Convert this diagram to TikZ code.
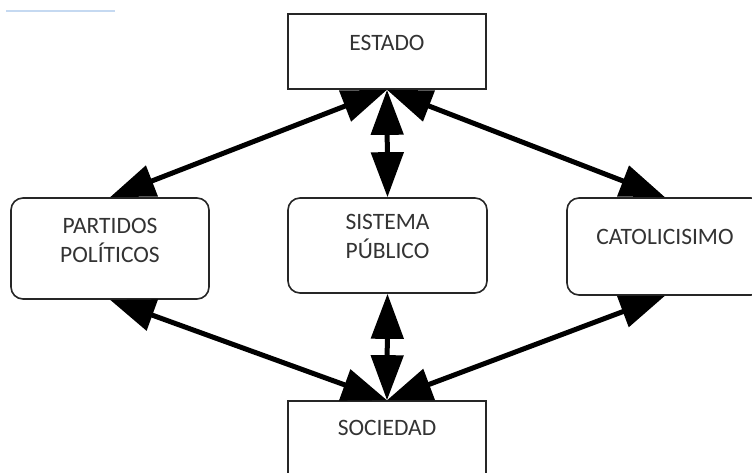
\documentclass[tikz,border=0pt]{standalone}
\usepackage{fontspec}
\setmainfont{Carlito}
\usetikzlibrary{arrows.meta}
\tikzset{
  sqbox/.style={draw=black!85, line width=1.6pt, fill=white, inner sep=0pt},
  rbox/.style={sqbox, rounded corners=12pt},
  lbl/.style={font=\fontsize{23.5}{29}\selectfont, text=black!80, align=center, inner sep=0pt},
  link/.style={line width=5pt, black, {Triangle[length=45pt,width=32pt]}-{Triangle[length=45pt,width=32pt]}}
}
\begin{document}
\begin{tikzpicture}[x=1pt,y=-1pt]
\useasboundingbox (0,0) rectangle (752,472);
\clip (0,0) rectangle (752,472);
\fill[white] (0,0) rectangle (752,472);
\coordinate (bl1) at (6,11);
\coordinate (bl2) at (115,11);
\draw[line width=1.2pt, color={rgb,255:red,197;green,217;blue,241}] (bl1) -- (bl2);

\node[sqbox, minimum width=198pt, minimum height=75pt] (estado) at (387,51.5) {};
\node[rbox, minimum width=198pt, minimum height=101pt] (partidos) at (110,248.5) {};
\node[rbox, minimum width=199pt, minimum height=95pt] (sistema) at (387.5,245.5) {};
\node[rbox, minimum width=196pt, minimum height=97pt] (catol) at (665,246.5) {};
\node[sqbox, minimum width=198pt, minimum height=90pt] (sociedad) at (387,446) {};

\node[lbl] (testado) at (387,43) {ESTADO};
\node[lbl] (tpartidos) at (110,240) {PARTIDOS\\POLÍTICOS};
\node[lbl] (tsistema) at (387.5,236) {SISTEMA\\PÚBLICO};
\node[lbl] (tcatol) at (665,237) {CATOLICISIMO};
\node[lbl] (tsociedad) at (387,428) {SOCIEDAD};

\draw[link] (estado.south) -- (partidos.north);
\draw[link] (estado.south) -- (sistema.north);
\draw[link] (estado.south) -- (catol.north);
\draw[link] (partidos.south) -- (sociedad.north);
\draw[link] (sistema.south) -- (sociedad.north);
\draw[link] (catol.south) -- (sociedad.north);
\end{tikzpicture}
\end{document}
